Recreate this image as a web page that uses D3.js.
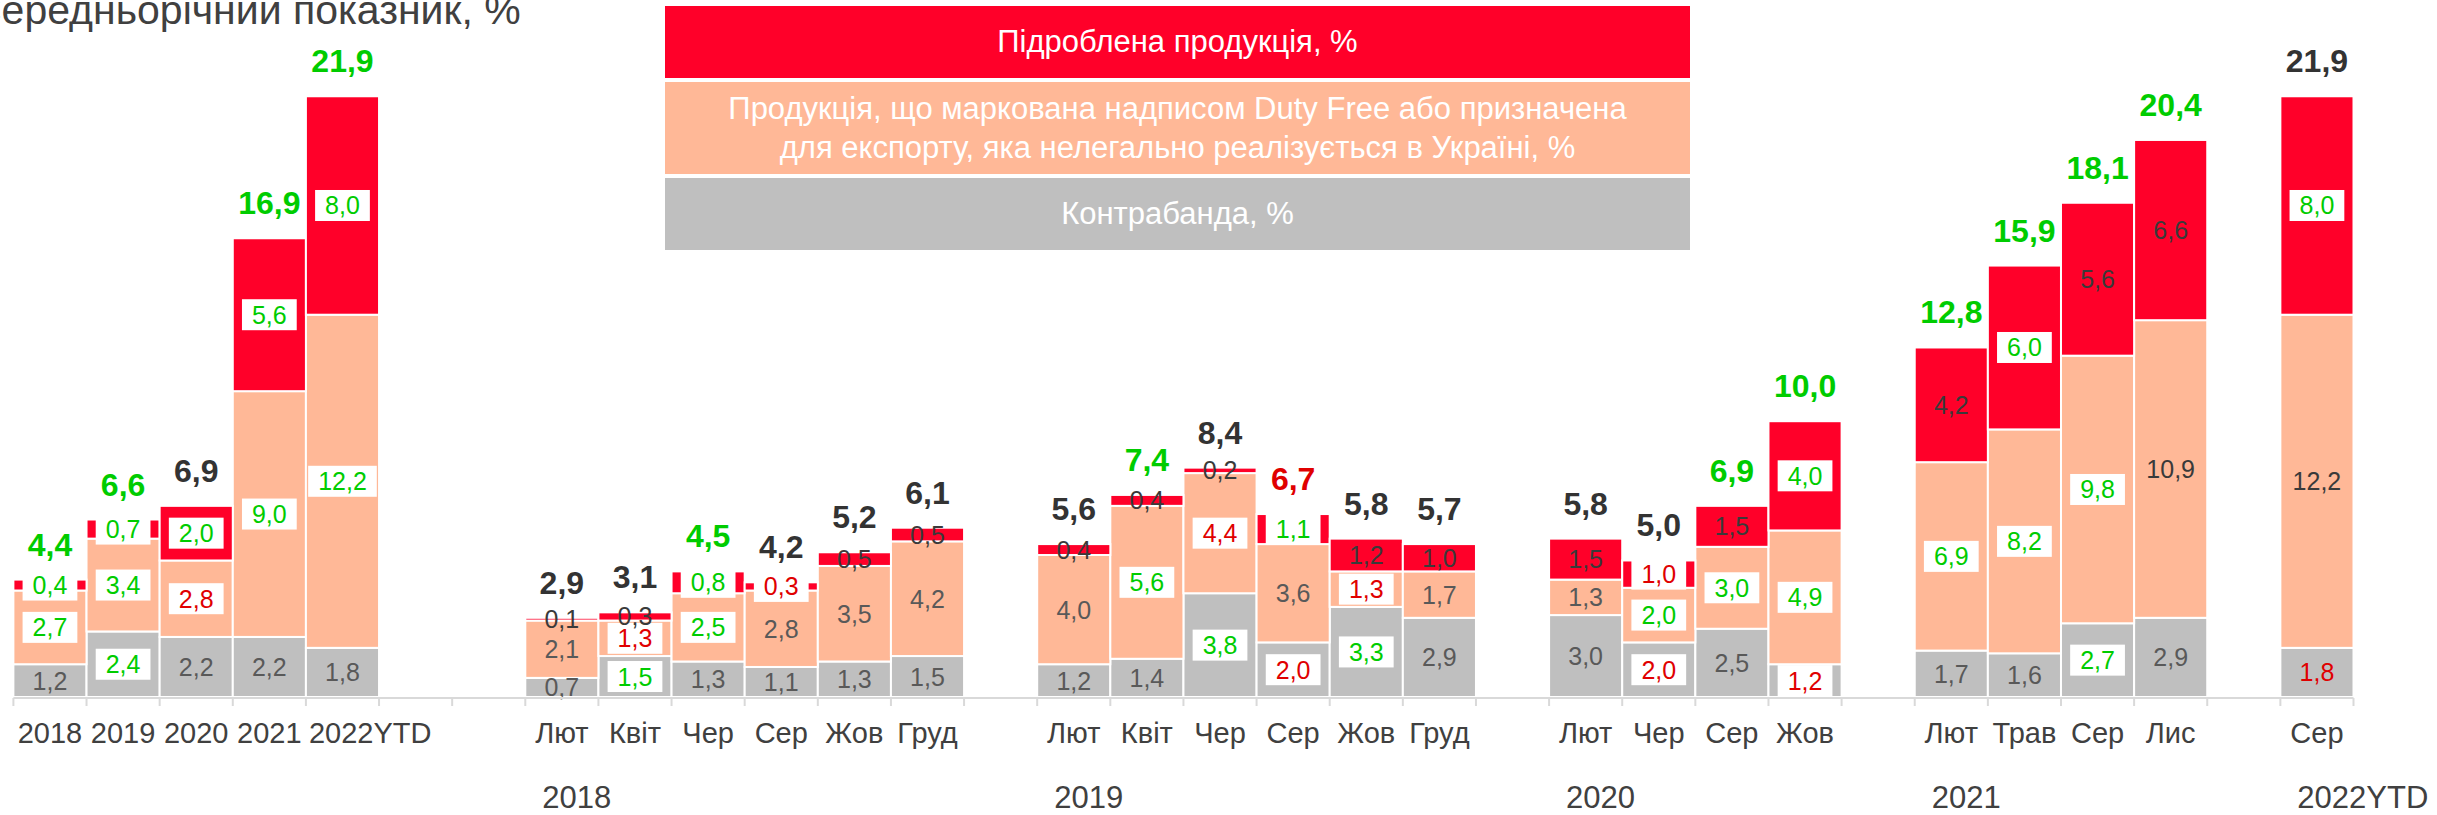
<!DOCTYPE html>
<html>
<head>
<meta charset="utf-8">
<script src="https://cdn.jsdelivr.net/npm/d3@7/dist/d3.min.js"></script>
<style>
body { margin: 0; background: #fff; }
svg text { font-family: "Liberation Sans", Arial, sans-serif; }
</style>
</head>
<body>
<svg id="chart" width="2437" height="815"></svg>
<script>
"use strict";

// categories along the axis ("" = empty slot between year groups)
var labels = ["2018", "2019", "2020", "2021", "2022YTD", "", "",
    "Лют", "Квіт", "Чер", "Сер", "Жов", "Груд", "",
    "Лют", "Квіт", "Чер", "Сер", "Жов", "Груд", "",
    "Лют", "Чер", "Сер", "Жов", "",
    "Лют", "Трав", "Сер", "Лис", "",
    "Сер"]

var yearLabels = ["2018", "2019", "2020", "2021", "2022YTD"]
var yearFirst = [7, 14, 21, 26, 31]

var contraband  = [1.2, 2.4, 2.2, 2.2, 1.8, null, null, 0.7, 1.5, 1.3, 1.1, 1.3, 1.5, null, 1.2, 1.4, 3.8, 2.0, 3.3, 2.9, null, 3.0, 2.0, 2.5, 1.2, null, 1.7, 1.6, 2.7, 2.9, null, 1.8]
var dutyFree    = [2.7, 3.4, 2.8, 9.0, 12.2, null, null, 2.1, 1.3, 2.5, 2.8, 3.5, 4.2, null, 4.0, 5.6, 4.4, 3.6, 1.3, 1.7, null, 1.3, 2.0, 3.0, 4.9, null, 6.9, 8.2, 9.8, 10.9, null, 12.2]
var counterfeit = [0.4, 0.7, 2.0, 5.6, 8.0, null, null, 0.1, 0.3, 0.8, 0.3, 0.5, 0.5, null, 0.4, 0.4, 0.2, 1.1, 1.2, 1.0, null, 1.5, 1.0, 1.5, 4.0, null, 4.2, 6.0, 5.6, 6.6, null, 8.0]
var totals      = [4.4, 6.6, 6.9, 16.9, 21.9, null, null, 2.9, 3.1, 4.5, 4.2, 5.2, 6.1, null, 5.6, 7.4, 8.4, 6.7, 5.8, 5.7, null, 5.8, 5.0, 6.9, 10.0, null, 12.8, 15.9, 18.1, 20.4, null, 21.9]

// label tone: G green boxed, R red boxed, r red, n grey, d dark; totals g / r / d
var contrabandTone  = ["n","G","n","n","n","","","n","G","n","n","n","n","","n","n","G","R","G","n","","n","R","n","R","","n","n","G","n","","r"]
var dutyFreeTone    = ["G","G","R","G","G","","","n","R","G","n","n","n","","n","G","R","n","R","n","","n","G","G","G","","G","G","G","d","","d"]
var counterfeitTone = ["G","G","G","G","G","","","d","d","G","R","d","d","","d","d","d","G","d","d","","d","R","d","G","","d","G","d","d","","G"]
var totalTone       = ["g","g","d","g","g","","","d","d","g","d","d","d","","d","g","d","r","d","d","","d","d","g","g","","g","g","g","g","","d"]

var legendNames = [
    ["Підроблена продукція, %"],
    ["Продукція, що маркована надписом Duty Free або призначена", "для експорту, яка нелегально реалізується в Україні, %"],
    ["Контрабанда, %"]
]

var keys = ["contraband", "dutyFree", "counterfeit"]
var colors = {contraband: "#bfbfbf", dutyFree: "#ffb897", counterfeit: "#ff0029"}
var tones = {contraband: contrabandTone, dutyFree: dutyFreeTone, counterfeit: counterfeitTone}
var green = "#00cc00", red = "#e00000", dark = "#3a3a3a", grey = "#595959"

var svg = d3.select("#chart")
var baseY = 697

var x = d3.scaleBand().domain(d3.range(labels.length)).range([13.4, 2353.5]).padding(0)
var y = d3.scaleLinear().domain([0, 21.9]).range([baseY, 99])

function fmt(v) {
    return v.toFixed(1).replace(".", ",")
}

function drawTitle() {
    svg.append("text")
        .attr("x", -28)
        .attr("y", 24)
        .attr("font-size", 41)
        .attr("fill", "#404040")
        .text("Середньорічний показник, %")
}

function drawLegend() {
    var lx = 665, lw = 1025
    var boxes = [
        {key: "counterfeit", y0: 6, y1: 78},
        {key: "dutyFree", y0: 82, y1: 174},
        {key: "contraband", y0: 178, y1: 250}
    ]
    var lg = svg.append("g").attr("class", "legend")
    boxes.forEach((b, i) => {
        lg.append("rect")
            .attr("x", lx).attr("y", b.y0)
            .attr("width", lw).attr("height", b.y1 - b.y0)
            .attr("fill", colors[b.key])
        var lines = legendNames[i]
        var mid = (b.y0 + b.y1) / 2
        lines.forEach((line, j) => {
            lg.append("text")
                .attr("x", lx + lw / 2)
                .attr("y", mid + 10 + (j - (lines.length - 1) / 2) * 39)
                .attr("text-anchor", "middle")
                .attr("font-size", 31)
                .attr("fill", "#fff")
                .text(line)
        })
    })
}

function drawAxis() {
    var ag = svg.append("g").attr("class", "axis")
    var r = x.range()
    ag.append("line")
        .attr("x1", r[0]).attr("x2", r[1])
        .attr("y1", baseY + 1).attr("y2", baseY + 1)
        .attr("stroke", "#d9d9d9").attr("stroke-width", 2)
    var edges = x.domain().map(i => x(i)).concat([r[1]])
    ag.selectAll(".tick").data(edges).enter().append("line")
        .attr("class", "tick")
        .attr("x1", d => d).attr("x2", d => d)
        .attr("y1", baseY + 1).attr("y2", baseY + 9)
        .attr("stroke", "#d9d9d9").attr("stroke-width", 2)

    ag.selectAll(".cat").data(labels.map((l, i) => ({l, i})).filter(d => d.l !== "")).enter()
        .append("text")
        .attr("class", "cat")
        .attr("x", d => d.l.length > 5 ? x(d.i) + 3 : x(d.i) + x.bandwidth() / 2)
        .attr("y", 743)
        .attr("text-anchor", d => d.l.length > 5 ? "start" : "middle")
        .attr("font-size", 29)
        .attr("fill", "#404040")
        .text(d => d.l)

    ag.selectAll(".year").data(yearLabels).enter()
        .append("text")
        .attr("class", "year")
        .attr("x", (d, k) => x(yearFirst[k]) + 17)
        .attr("y", 808)
        .attr("font-size", 31)
        .attr("fill", "#404040")
        .text(d => d)
}

function drawBars() {
    var rows = labels.map((l, i) => ({
        i: i,
        contraband: contraband[i] || 0,
        dutyFree: dutyFree[i] || 0,
        counterfeit: counterfeit[i] || 0
    }))
    var series = d3.stack().keys(keys)(rows)

    var bars = svg.append("g").attr("class", "bars")
    series.forEach(s => {
        bars.append("g").selectAll("rect")
            .data(s.filter(d => d[1] - d[0] > 0))
            .enter().append("rect")
            .attr("x", d => x(d.data.i))
            .attr("width", x.bandwidth())
            .attr("y", d => y(d[1]))
            .attr("height", d => y(d[0]) - y(d[1]))
            .attr("fill", colors[s.key])
            .attr("stroke", "#fff")
            .attr("stroke-width", 2)
    })

    var lab = svg.append("g").attr("class", "seg-labels")
    series.forEach(s => {
        s.filter(d => d[1] - d[0] > 0).forEach(d => {
            var i = d.data.i
            var tone = tones[s.key][i]
            var cx = x(i) + x.bandwidth() / 2
            var cy = (y(d[0]) + y(d[1])) / 2
            var g = lab.append("g")
            var box = g.append("rect")
            var t = g.append("text")
                .attr("x", cx)
                .attr("y", cy + 9)
                .attr("text-anchor", "middle")
                .attr("font-size", 25)
                .attr("fill", tone === "G" ? green : (tone === "R" || tone === "r") ? red : tone === "d" ? dark : grey)
                .text(fmt(d.data[s.key]))
            if (tone === "G" || tone === "R") {
                var w = t.node().getComputedTextLength() + 20
                box.attr("x", cx - w / 2).attr("y", cy - 15.5)
                    .attr("width", w).attr("height", 31)
                    .attr("fill", "#fff")
            } else {
                box.remove()
            }
        })
    })

    var top = series[series.length - 1]
    svg.append("g").attr("class", "totals")
        .selectAll("text")
        .data(top.filter(d => totals[d.data.i] != null))
        .enter().append("text")
        .attr("x", d => x(d.data.i) + x.bandwidth() / 2)
        .attr("y", d => y(d[1]) - 24)
        .attr("text-anchor", "middle")
        .attr("font-size", 32)
        .attr("font-weight", "bold")
        .attr("fill", d => {
            var tn = totalTone[d.data.i]
            return tn === "g" ? green : tn === "r" ? red : "#333"
        })
        .text(d => fmt(totals[d.data.i]))
}

drawTitle()
drawLegend()
drawBars()
drawAxis()
</script>
</body>
</html>
